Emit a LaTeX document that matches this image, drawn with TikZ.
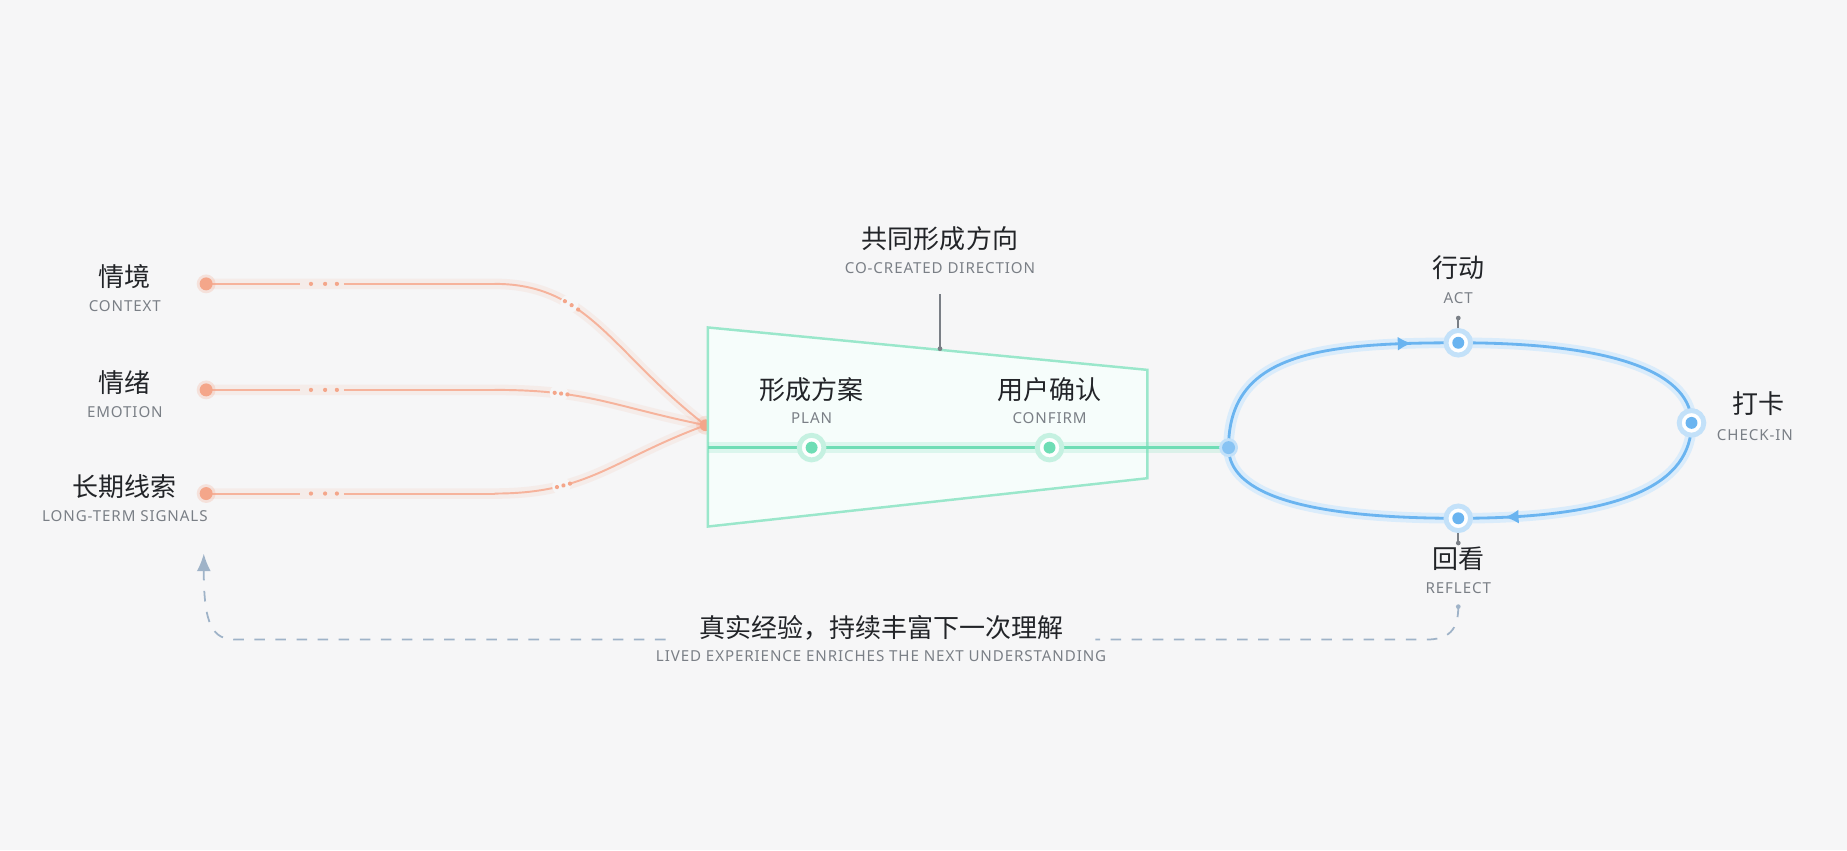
\documentclass[tikz,border=0pt]{standalone}
\usepackage{fontspec}
\setmainfont{Noto Sans}[LetterSpace=6]
\newfontfamily\cjk{Noto Sans CJK SC}
\usetikzlibrary{decorations.markings,arrows.meta}
\definecolor{bgc}{HTML}{F6F6F7}
\definecolor{warm}{HTML}{F4A68A}
\definecolor{mint}{HTML}{6FDDB5}
\definecolor{sky}{HTML}{6AB4F0}
\definecolor{sub}{HTML}{7A7F86}
\definecolor{ink}{HTML}{222428}
\definecolor{fb}{HTML}{9FB3C8}
\tikzset{
  zh/.style={font=\cjk\fontsize{7.4}{8}\selectfont,text=ink,inner sep=0pt},
  en/.style={font=\fontsize{4.3}{5}\selectfont,text=sub,inner sep=0pt},
  warmline/.style={warm!85,line width=0.55pt},
  warmglow/.style={warm,opacity=0.12,line width=3pt},
  trail/.style={postaction={decorate},decoration={markings,
    mark=at position 0.30 with {\fill[bgc] (0,0) circle (2.6pt);},
    mark=at position 0.28 with {\fill[warm] (0,0) circle (0.6pt);},
    mark=at position 0.31 with {\fill[warm] (0,0) circle (0.6pt);},
    mark=at position 0.34 with {\fill[warm] (0,0) circle (0.6pt);}}},
  hub/.style={circle,draw=#1!40,line width=1.4pt,fill=white,minimum size=7pt,inner sep=0pt,
    path picture={\fill[#1] (path picture bounding box.center) circle (1.7pt);}},
}
\begin{document}
\begin{tikzpicture}[x=0.01178cm,y=-0.01178cm]
\fill[bgc] (0,0) rectangle (1568,722);
\useasboundingbox (0,0) rectangle (1568,722);

% sources
\coordinate (join) at (599,361);
\foreach \n/\y/\zh/\en/\mid in {ctx/241/情境/CONTEXT/300,emo/331/情绪/EMOTION/345,sig/419/长期线索/LONG-TERM SIGNALS/390}{
  \node[zh] (\n-zh) at (106,\y-6) {\zh};
  \node[en] (\n-en) at (106,\y+19) {\en};
  \draw[warmglow] (175,\y) -- (420,\y) .. controls (500,\y) and (520,\mid) .. (join);
  \draw[warmline] (175,\y) -- (255,\y);
  \draw[warmline] (292,\y) -- (420,\y);
  \draw[warmline,trail] (420,\y) .. controls (500,\y) and (520,\mid) .. (join);
  \fill[warm,opacity=0.25] (175,\y) circle (8);
  \fill[warm] (175,\y) circle (5.5) coordinate (\n);
  \foreach \dx in {264,276,286} \fill[warm] (\dx,\y) circle (1.8);
}
\fill[warm,opacity=0.25] (join) circle (8);
\fill[warm] (join) circle (5);

% co-created direction
\draw[mint!70,line width=0.7pt,fill=mint!6] (601,278) -- (974,314) -- (974,406) -- (601,447) -- cycle;
\node[zh] (dir-zh) at (798,203) {共同形成方向};
\node[en] (dir-en) at (798,228) {CO-CREATED DIRECTION};
\coordinate (dir-top) at (798,250);
\coordinate (dir-bot) at (798,296);
\draw[sub,line width=0.5pt] (dir-top) -- (dir-bot);
\fill[sub] (dir-bot) circle (2);

\coordinate (green-in) at (601,380);
\coordinate (loop-in) at (1043,380);
\draw[mint,opacity=0.2,line width=3pt] (green-in) -- (loop-in);
\draw[mint,line width=0.8pt] (green-in) -- (loop-in);
\node[hub=mint] (plan) at (689,380) {};
\node[hub=mint] (confirm) at (891,380) {};
\node[zh] at (689,331) {形成方案};
\node[en] at (689,355) {PLAN};
\node[zh] at (891,331) {用户确认};
\node[en] at (891,355) {CONFIRM};

% loop
\draw[sky!25,line width=3pt] (loop-in) .. controls (1043,300) and (1120,291) .. (1238,291)
  .. controls (1380,291) and (1436,320) .. (1436,359)
  .. controls (1436,410) and (1380,440) .. (1238,440)
  .. controls (1110,440) and (1043,420) .. (loop-in);
\draw[sky,line width=0.8pt,postaction={decorate},decoration={markings,
    mark=at position 0.22 with {\arrow{Latex[length=4pt,width=4pt]}},
    mark=at position 0.72 with {\arrow{Latex[length=4pt,width=4pt]}}}]
  (loop-in) .. controls (1043,300) and (1120,291) .. (1238,291)
  .. controls (1380,291) and (1436,320) .. (1436,359)
  .. controls (1436,410) and (1380,440) .. (1238,440)
  .. controls (1110,440) and (1043,420) .. (loop-in);
\fill[sky!40] (loop-in) circle (8);
\fill[sky!80] (loop-in) circle (5.5);
\node[hub=sky] (act) at (1238,291) {};
\node[hub=sky] (check) at (1436,359) {};
\node[hub=sky] (reflect) at (1238,440) {};
\node[zh] at (1238,227) {行动};
\node[en] (act-en) at (1238,253) {ACT};
\draw[sub,line width=0.5pt] (1238,270) -- (act);
\fill[sub] (1238,270) circle (2);
\node[zh,anchor=west] at (1470,343) {打卡};
\node[en,anchor=west] at (1457,369) {CHECK-IN};
\node[zh] at (1238,474) {回看};
\node[en] at (1238,499) {REFLECT};
\draw[sub,line width=0.5pt] (reflect) -- (1238,461);
\fill[sub] (1238,461) circle (2);

% feedback
\coordinate (fb-start) at (1238,515);
\coordinate (fb-end) at (173,470);
\fill[fb] (fb-start) circle (2);
\node[zh] (fb-zh) at (748,533) {真实经验，持续丰富下一次理解};
\node[en] (fb-en) at (748,557) {LIVED EXPERIENCE ENRICHES THE NEXT UNDERSTANDING};
\draw[fb,dashed,line width=0.5pt] (fb-start) .. controls (1238,535) and (1230,543) .. (1210,543) -- (930,543);
\draw[fb,dashed,line width=0.5pt,-{Latex[length=5pt,width=4pt]}] (565,543) -- (200,543) .. controls (180,543) and (173,530) .. (fb-end);
\end{tikzpicture}
\end{document}
